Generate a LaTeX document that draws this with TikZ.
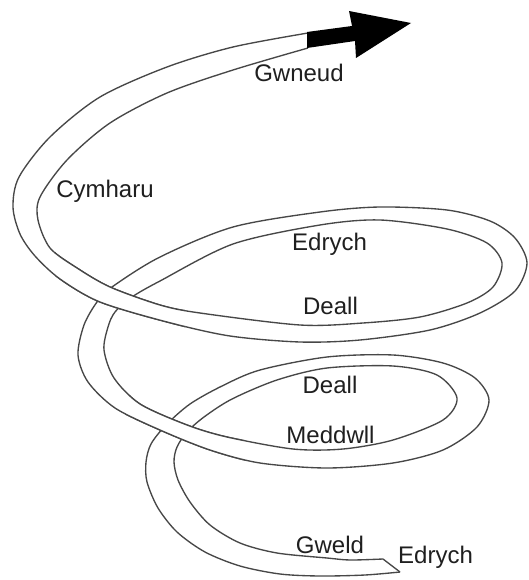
\documentclass[tikz,border=0pt]{standalone}
\usepackage{fontspec}
\setmainfont{Liberation Sans}
\begin{document}
\begin{tikzpicture}[x=1pt,y=-1pt,
  edge/.style={draw=black!72,line width=1.35pt,line join=round},
  lbl/.style={inner sep=0pt,anchor=base,text=black!88,font=\fontsize{24}{28}\selectfont}]
\fill[white] (0,0) rectangle (528,580);
\useasboundingbox (0,0) rectangle (528,580);
% outer (left-hand) edge of the ribbon
\draw[edge] plot[smooth] coordinates {(400,572) (365,575) (320,576) (280,574) (240,566) (205,552) (177,532) (158,508) (147,482) (146,462) (151,444) (166,425) (190,404) (222,386) (260,370) (327,357) (393,355) (443,363) (475,378) (489,400) (477,427) (443,450) (393,463) (327,468) (260,463) (210,450) (160,430) (115,408) (88,382) (78,355) (84,325) (97,302) (112,287) (160,257) (233,227) (320,212) (380,207) (447,210) (490,221) (515,238) (527,263) (515,291) (480,313) (430,330) (360,340) (300,342) (230,336) (167,322) (100,302) (60,279) (35,256) (20,234) (13,207) (19,177) (50,137) (100,97) (167,67) (233,47) (308,33)};
% inner (right-hand) edge of the ribbon
\draw[edge] plot[smooth] coordinates {(383,559) (350,560) (327,558) (277,553) (240,543) (210,525) (190,502) (178,480) (174,462) (177,447) (187,432) (204,417) (232,399) (277,380) (327,368) (393,366) (437,375) (457,398) (443,420) (393,440) (343,449) (293,449) (227,437) (187,425) (140,404) (114,378) (104,350) (108,327) (115,312) (132,297) (160,281) (233,244) (320,225) (380,220) (447,229) (487,243) (502,263) (493,287) (467,303) (420,317) (363,323) (300,325) (200,313) (160,305) (110,287) (77,268) (50,248) (38,220) (40,197) (67,160) (110,123) (167,93) (233,70) (308,48)};
\coordinate (capA) at (383,559);
\coordinate (capB) at (400,572);
\draw[edge] (capA) -- (capB);
% lower crossing: front of lower loop passes over
\begin{scope}
\clip (125,385) rectangle (245,480);
\fill[white] plot[smooth] coordinates {(443,450) (393,463) (327,468) (260,463) (210,450) (160,430) (115,408) (88,382) (78,355)} -- plot[smooth] coordinates {(104,350) (114,378) (140,404) (187,425) (227,437) (293,449) (343,449) (393,440) (443,420)} -- cycle;
\draw[edge] plot[smooth] coordinates {(443,450) (393,463) (327,468) (260,463) (210,450) (160,430) (115,408) (88,382) (78,355)};
\draw[edge] plot[smooth] coordinates {(443,420) (393,440) (343,449) (293,449) (227,437) (187,425) (140,404) (114,378) (104,350)};
\end{scope}
% upper crossing: front of upper loop passes over
\begin{scope}
\clip (55,240) rectangle (185,340);
\fill[white] plot[smooth] coordinates {(360,340) (300,342) (230,336) (167,322) (100,302) (60,279) (35,256) (20,234) (13,207)} -- plot[smooth] coordinates {(40,197) (38,220) (50,248) (77,268) (110,287) (160,305) (200,313) (300,325) (363,323) (420,317)} -- cycle;
\draw[edge] plot[smooth] coordinates {(360,340) (300,342) (230,336) (167,322) (100,302) (60,279) (35,256) (20,234) (13,207)};
\draw[edge] plot[smooth] coordinates {(420,317) (363,323) (300,325) (200,313) (160,305) (110,287) (77,268) (50,248) (38,220) (40,197)};
\end{scope}
% arrow head
\fill[black] (307,32) -- (352,26) -- (349,11) -- (411,23) -- (356,58) -- (355,41) -- (307,48) -- cycle;
% labels
\node[lbl] (gwneud) at (299,82) {Gwneud};
\node[lbl] (cymharu) at (105,197) {Cymharu};
\node[lbl] (edrych1) at (329.5,250) {Edrych};
\node[lbl] (deall1) at (330.5,314) {Deall};
\node[lbl] (deall2) at (330,393) {Deall};
\node[lbl] (meddwll) at (330.5,443) {Meddwll};
\node[lbl] (gweld) at (330,553) {Gweld};
\node[lbl] (edrych2) at (435.5,563) {Edrych};
\end{tikzpicture}
\end{document}
